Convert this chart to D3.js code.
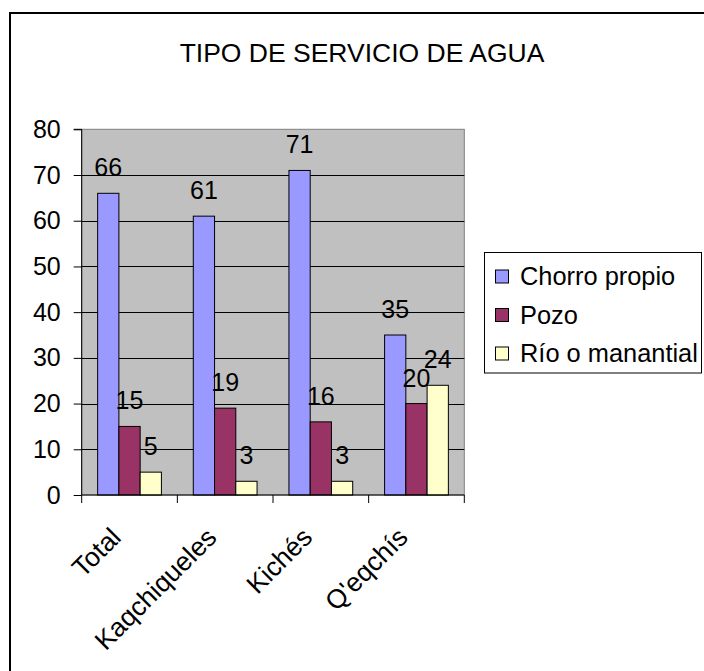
<!DOCTYPE html>
<html><head><meta charset="utf-8">
<script src="https://cdn.jsdelivr.net/npm/d3@7"></script>
<style>html,body{margin:0;padding:0;background:#fff;}svg{display:block;}</style>
</head><body>
<script>
const title = "TIPO DE SERVICIO DE AGUA";
const categories = ["Total", "Kaqchiqueles", "Kichés", "Q'eqchís"];
const seriesNames = ["Chorro propio", "Pozo", "Río o manantial"];
const chorroPropio = [66, 61, 71, 35];
const pozo = [15, 19, 16, 20];
const rioManantial = [5, 3, 3, 24];
const yTicks = [0, 10, 20, 30, 40, 50, 60, 70, 80];
const colors = ["#9999FF", "#993366", "#FFFFCC"];

const seriesValues = [chorroPropio, pozo, rioManantial];
const W = 704, H = 671;
const font = "Liberation Sans, Arial, sans-serif";
const fs = 25;       // numbers
const fsText = 26.5; // title and category labels
const fsLegend = 25.4;

const svg = d3.select("body").append("svg").attr("width", W).attr("height", H);
svg.append("rect").attr("width", W).attr("height", H).attr("fill", "#fff");
// outer chart border (extends beyond the picture on right/bottom)
svg.append("path").attr("d", "M10,672 V13 H705").attr("fill", "none").attr("stroke", "#000").attr("stroke-width", 2);

svg.append("text").attr("x", 362).attr("y", 62).attr("text-anchor", "middle")
  .attr("font-family", font).attr("font-size", fsText).attr("fill", "#000").text(title);

const pLeft = 81.7, pRight = 464.3, pTop = 129.3, pBottom = 495;
const y = d3.scaleLinear().domain([0, 80]).range([pBottom, pTop]);
const x = d3.scaleBand().domain(categories).range([pLeft, pRight]).paddingInner(0).paddingOuter(0);
const xs = d3.scaleBand().domain(d3.range(3)).range([0, x.bandwidth()]).paddingInner(0).paddingOuter(0.75);

// plot area
svg.append("rect").attr("x", pLeft).attr("y", pTop).attr("width", pRight - pLeft).attr("height", pBottom - pTop)
  .attr("fill", "#C0C0C0").attr("stroke", "#808080").attr("stroke-width", 1);

// gridlines
svg.append("g").selectAll("line").data(yTicks.filter(t => t > 0 && t < 80)).join("line")
  .attr("x1", pLeft).attr("x2", pRight).attr("y1", d => Math.round(y(d)) + 0.5).attr("y2", d => Math.round(y(d)) + 0.5)
  .attr("stroke", "#000").attr("stroke-width", 1);

// bars
const g = svg.append("g");
seriesValues.forEach((vals, si) => {
  g.selectAll(null).data(vals).join("rect")
    .attr("x", (d, i) => x(categories[i]) + xs(si))
    .attr("y", d => y(d))
    .attr("width", xs.bandwidth())
    .attr("height", d => pBottom - y(d))
    .attr("fill", colors[si]).attr("stroke", "#000").attr("stroke-width", 1);
});

// data labels
seriesValues.forEach((vals, si) => {
  svg.append("g").selectAll("text").data(vals).join("text")
    .attr("x", (d, i) => x(categories[i]) + xs(si) + xs.bandwidth() / 2)
    .attr("y", d => y(d) - 17)
    .attr("text-anchor", "middle").attr("font-family", font).attr("font-size", fs).attr("fill", "#000")
    .text(d => d);
});

// y axis
const yAxis = d3.axisLeft(y).tickValues(yTicks).tickSize(8).tickPadding(13).tickFormat(d3.format("d"));
const ya = svg.append("g").attr("transform", `translate(${pLeft},0)`).call(yAxis);
ya.select(".domain").attr("stroke", "#000").attr("d", `M-8,${y(80)}H0V${pBottom}`);
ya.selectAll("text").attr("font-family", font).attr("font-size", fs).attr("fill", "#000");
ya.selectAll(".tick line").attr("stroke", "#000");

// x axis
const xa = svg.append("g").attr("transform", `translate(0,${pBottom})`);
xa.append("line").attr("x1", pLeft).attr("x2", pRight).attr("y1", 0).attr("y2", 0).attr("stroke", "#000");
const bounds = categories.map(c => x(c)).concat([pRight]);
xa.selectAll("line.tk").data(bounds).join("line").attr("class", "tk")
  .attr("x1", d => d).attr("x2", d => d).attr("y1", 0).attr("y2", 8).attr("stroke", "#000");
xa.selectAll("text").data(categories).join("text")
  .attr("transform", d => `translate(${x(d) + x.bandwidth() / 2 - 7},44) rotate(-45)`)
  .attr("text-anchor", "end").attr("font-family", font).attr("font-size", fsText).attr("fill", "#000")
  .text(d => d);

// legend
const lg = svg.append("g");
lg.append("rect").attr("x", 484.5).attr("y", 252.5).attr("width", 217).attr("height", 120.5)
  .attr("fill", "#fff").attr("stroke", "#000").attr("stroke-width", 1);
const ly = d3.scalePoint().domain(seriesNames).range([276.5, 353.5]);
seriesNames.forEach((s, i) => {
  lg.append("rect").attr("x", 495.5).attr("y", ly(s) - 6.5).attr("width", 13).attr("height", 13)
    .attr("fill", colors[i]).attr("stroke", "#000").attr("stroke-width", 1);
  lg.append("text").attr("x", 520).attr("y", ly(s)).attr("dy", "0.35em")
    .attr("font-family", font).attr("font-size", fsLegend).attr("fill", "#000").text(s);
});
</script>
</body></html>
